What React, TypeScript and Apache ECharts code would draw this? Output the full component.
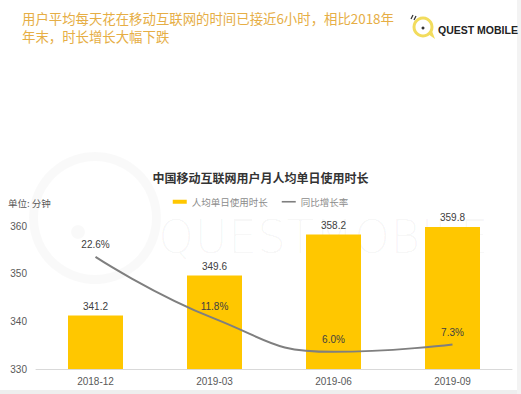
import React, { useEffect, useRef } from "react";
import * as echarts from "echarts";

const categories = ["2018-12", "2019-03", "2019-06", "2019-09"];
const durationValues = [341.2, 349.6, 358.2, 359.8];
const growthValues = [22.6, 11.8, 6.0, 7.3];
const yTicks = [330, 340, 350, 360];

const headerLine1 = "用户平均每天花在移动互联网的时间已接近6小时，相比2018年";
const headerLine2 = "年末，时长增长大幅下跌";
const chartTitle = "中国移动互联网用户月人均单日使用时长";
const seriesNames = ["人均单日使用时长", "同比增长率"];
const unitLabel = "单位: 分钟";

const FONT = "'Liberation Sans', 'Noto Sans CJK SC', sans-serif";
const CJK = "'Noto Sans CJK SC', 'Liberation Sans', sans-serif";

export default function App() {
  const ref = useRef<HTMLDivElement>(null);
  useEffect(() => {
    if (!ref.current) return;
    const chart = echarts.init(ref.current, undefined, { renderer: "svg" });
    chart.setOption({
      animation: false,
      backgroundColor: "#ffffff",
      textStyle: { fontFamily: FONT },
      title: {
        text: chartTitle,
        left: "center",
        top: 166,
        textStyle: { fontSize: 12, fontWeight: "bold", color: "#333333", fontFamily: CJK },
      },
      legend: {
        top: 192,
        left: "center",
        itemWidth: 14,
        itemHeight: 4,
        itemGap: 14,
        textStyle: { fontSize: 9.5, color: "#8c8c8c", fontFamily: CJK },
        data: [
          { name: seriesNames[0], icon: "rect", itemStyle: { color: "#FFC700" } },
          {
            name: seriesNames[1],
            icon: "path://M0,0 L14,0 L14,1.6 L0,1.6 Z",
            itemStyle: { color: "#7f7f7f", opacity: 1 },
          },
        ],
      },
      graphic: [
        { type: "rect", shape: { x: 0, y: 390, width: 521, height: 4 }, style: { fill: "#eeeeee" }, silent: true },
        { type: "rect", shape: { x: 517, y: 0, width: 4, height: 394 }, style: { fill: "#f3f3f3" }, silent: true },
        // watermark
        {
          type: "ring",
          shape: { cx: 95, cy: 218, r: 66, r0: 57 },
          style: { fill: "rgba(0,0,0,0.022)" },
          silent: true,
          z: -10,
        },
        { type: "circle", shape: { cx: 78, cy: 232, r: 7 }, style: { fill: "rgba(0,0,0,0.025)" }, silent: true, z: -10 },
        {
          type: "text",
          x: 158,
          y: 237,
          style: {
            text: "QUESTMOBILE",
            fontSize: 46,
            fontFamily: "'DejaVu Sans', sans-serif",
            fontWeight: 200,
            fill: "rgba(0,0,0,0.03)",
            verticalAlign: "middle",
          },
          silent: true,
          z: -10,
        },
        // header
        {
          type: "text",
          x: 22,
          y: 18,
          style: { text: headerLine1, fontSize: 13.4, fontFamily: CJK, fill: "#E6AE45", verticalAlign: "middle" },
        },
        {
          type: "text",
          x: 22,
          y: 36,
          style: { text: headerLine2, fontSize: 13.4, fontFamily: CJK, fill: "#E6AE45", verticalAlign: "middle" },
        },
        // logo
        { type: "ring", shape: { cx: 423, cy: 27, r: 10.5, r0: 7.5 }, style: { fill: "#F2DC5D" } },
        { type: "polygon", shape: { points: [[428, 34], [435, 39], [432, 31]] }, style: { fill: "#F2DC5D" } },
        { type: "circle", shape: { cx: 423, cy: 28, r: 1.5 }, style: { fill: "#333333" } },
        { type: "line", shape: { x1: 411, y1: 19, x2: 413, y2: 15 }, style: { stroke: "#333333", lineWidth: 1.2 } },
        { type: "line", shape: { x1: 414, y1: 20, x2: 416, y2: 16 }, style: { stroke: "#333333", lineWidth: 1.2 } },
        {
          type: "text",
          x: 438,
          y: 30,
          style: {
            text: "QUEST MOBILE",
            fontSize: 10.5,
            fontWeight: "bold",
            fontFamily: "'Liberation Sans', sans-serif",
            fill: "#222222",
            verticalAlign: "middle",
          },
        },
        // unit
        {
          type: "text",
          x: 8,
          y: 203,
          style: { text: unitLabel, fontSize: 9.5, fontFamily: CJK, fill: "#595959", verticalAlign: "middle" },
        },
      ],
      grid: { left: 36, right: 9, top: 226, height: 143, containLabel: false },
      xAxis: {
        type: "category",
        data: categories,
        axisLine: { lineStyle: { color: "#d9d9d9", width: 1 } },
        axisTick: { show: false },
        axisLabel: { fontSize: 10, color: "#595959", margin: 7 },
      },
      yAxis: [
        {
          type: "value",
          min: yTicks[0],
          max: yTicks[yTicks.length - 1],
          interval: 10,
          axisLine: { show: false },
          axisTick: { show: false },
          splitLine: { show: false },
          axisLabel: { fontSize: 10, color: "#595959", margin: 9 },
        },
        { type: "value", min: 3, max: 28, show: false, splitLine: { show: false } },
      ],
      series: [
        {
          name: seriesNames[0],
          type: "bar",
          data: durationValues,
          barWidth: 55,
          itemStyle: { color: "#FFC700" },
          label: { show: true, position: "top", distance: 4, fontSize: 10, color: "#404040" },
        },
        {
          name: seriesNames[1],
          type: "line",
          yAxisIndex: 1,
          data: growthValues,
          smooth: true,
          symbol: "circle",
          showSymbol: true,
          symbolSize: 2,
          lineStyle: { color: "#7f7f7f", width: 2 },
          itemStyle: { color: "rgba(127,127,127,0)" },
          label: {
            show: true,
            position: "top",
            distance: 6,
            fontSize: 10,
            color: "#404040",
            formatter: (p: any) => Number(p.value).toFixed(1) + "%",
          },
        },
      ],
    });
    return () => chart.dispose();
  }, []);
  return <div ref={ref} style={{ position: "fixed", left: 0, top: 0, width: 521, height: 394 }} />;
}
